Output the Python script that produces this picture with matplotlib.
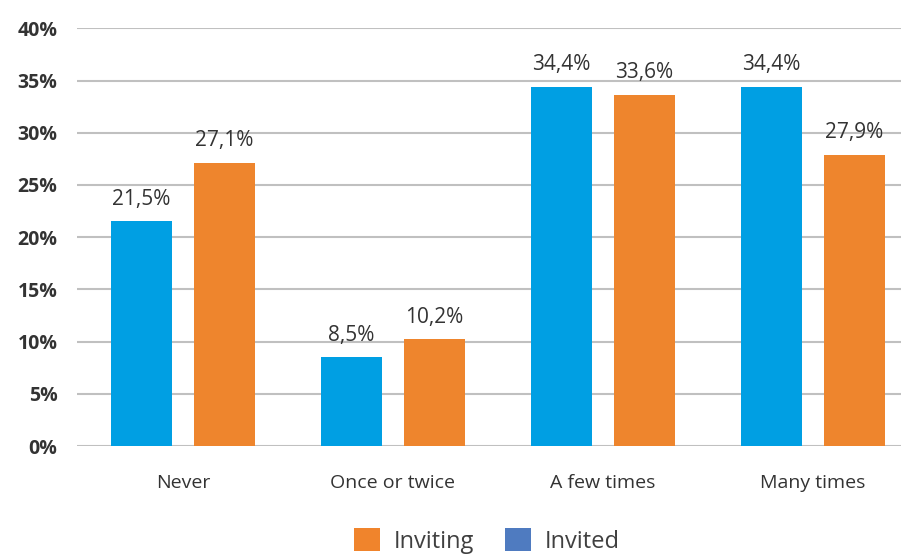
import numpy as np
import matplotlib
matplotlib.use('Agg')
import matplotlib.pyplot as plt
from matplotlib.patches import Patch

categories = ['Never', 'Once or twice', 'A few times', 'Many times']
invited = [21.5, 8.5, 34.4, 34.4]
inviting = [27.1, 10.2, 33.6, 27.9]
yticks = [0, 5, 10, 15, 20, 25, 30, 35, 40]

plt.rcParams['font.family'] = ['Open Sans', 'DejaVu Sans']

fig = plt.figure(figsize=(9.01, 5.54), dpi=100)
ax = fig.add_axes([77 / 901, 1 - 446 / 554, 1 - 77 / 901, (446 - 28.3) / 554])

x = np.arange(len(categories))
w = 0.29
off = 0.198
b1 = ax.bar(x - off, invited, w, color='#009FE3', zorder=3)
b2 = ax.bar(x + off, inviting, w, color='#EE852D', zorder=3)

# etiquetas de valor con coma decimal
for bars, vals in ((b1, invited), (b2, inviting)):
    for r, v in zip(bars, vals):
        ax.annotate('{:.1f}%'.format(v).replace('.', ','),
                    (r.get_x() + r.get_width() / 2, r.get_height()),
                    xytext=(0, 12), textcoords='offset points',
                    ha='center', va='baseline', fontsize=15, color='#333333')

ax.set_xlim(-0.505, 3.42)
ax.set_ylim(0, 40)
ax.set_yticks(yticks)
ax.set_yticklabels(['{}%'.format(t) for t in yticks], fontsize=14,
                   fontweight='bold', color='#333333')
ax.set_xticks(x)
ax.set_xticklabels(categories, fontsize=14, color='#333333')
ax.tick_params(axis='y', length=0, pad=14)
ax.tick_params(axis='x', length=0, pad=20)
ax.yaxis.grid(True, color='#C0C0C0', linewidth=1.5, zorder=0)
for s in ax.spines.values():
    s.set_visible(False)

handles = [Patch(facecolor='#F0842C', label='Inviting'),
           Patch(facecolor='#4F7BC0', label='Invited')]
fig.legend(handles=handles, loc='center', bbox_to_anchor=(487 / 901, 1 - 541 / 554),
           ncol=2, frameon=False, fontsize=17, handlelength=1.1, handleheight=1.1,
           handletextpad=0.6, columnspacing=1.3, labelcolor='#404040')

fig.savefig('out.png', dpi=100)
